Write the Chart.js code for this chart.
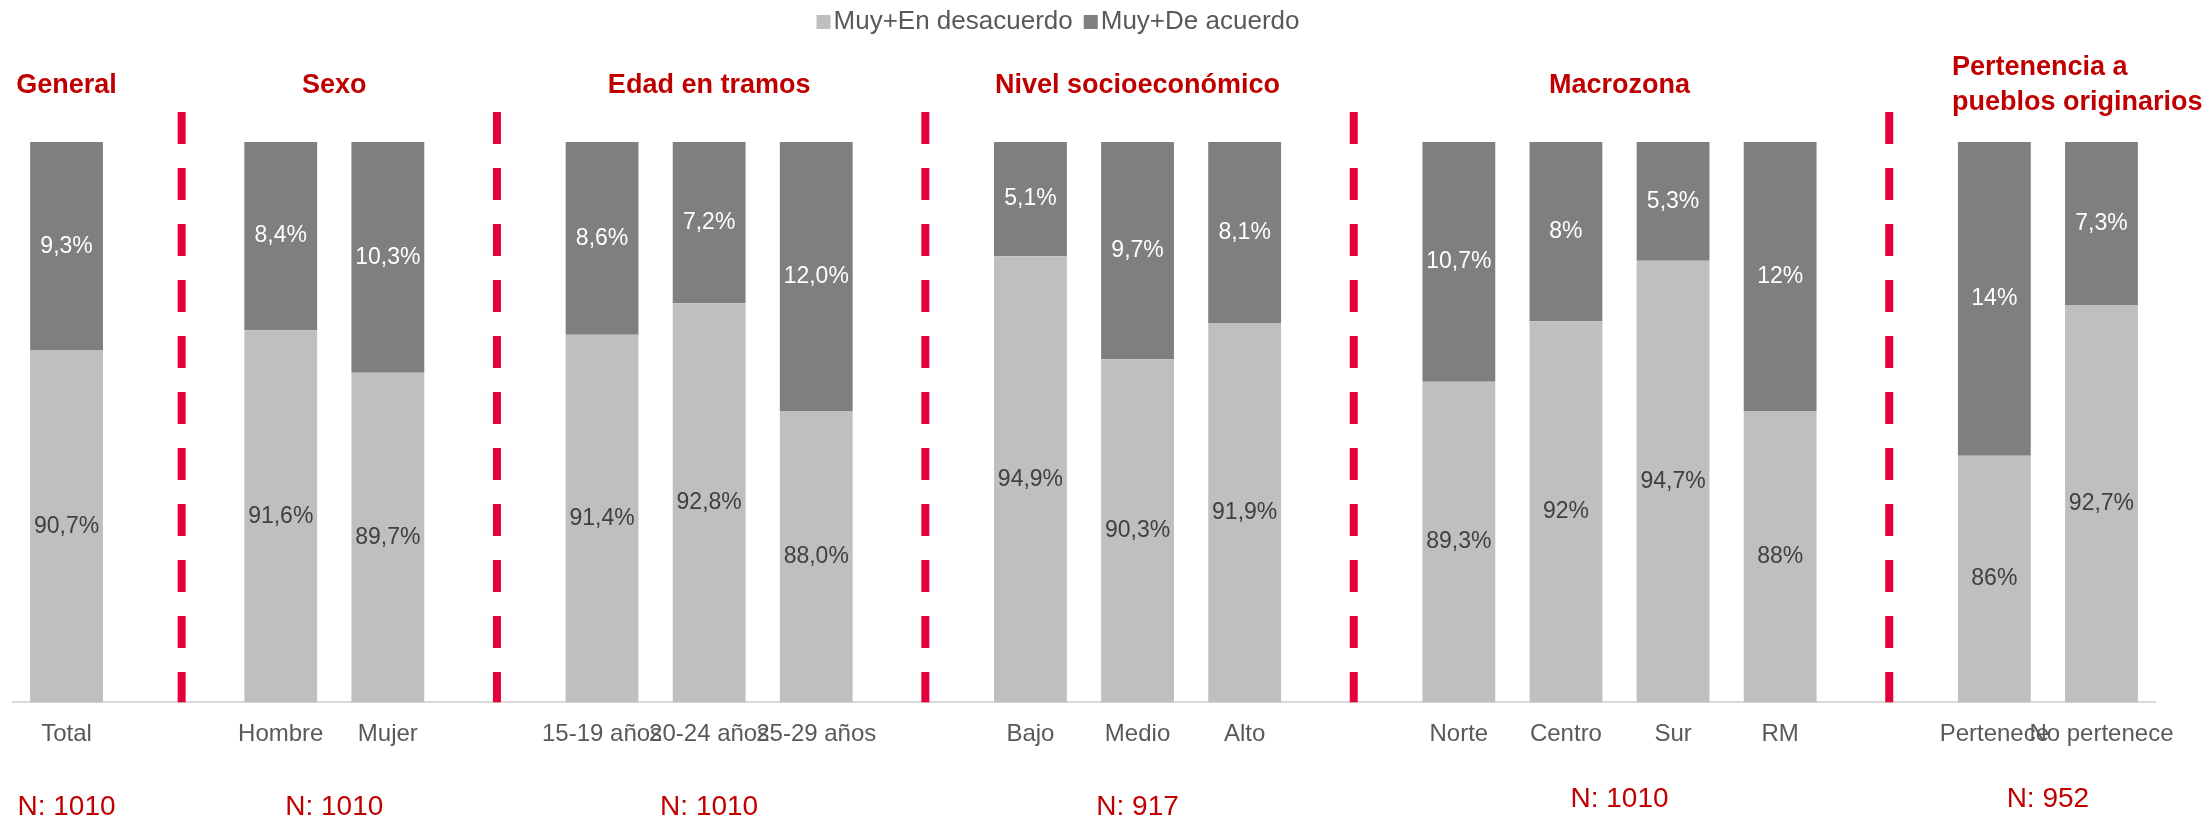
<!DOCTYPE html>
<html>
<head>
<meta charset="utf-8">
<title>Muy+En desacuerdo / Muy+De acuerdo</title>
<script src="https://cdn.jsdelivr.net/npm/chart.js@4.4.1/dist/chart.umd.min.js"></script>
<style>
  html, body { margin: 0; padding: 0; background: #ffffff; }
  canvas { display: block; }
</style>
</head>
<body>
<canvas id="acuerdoChart" width="2210" height="821"></canvas>
<script>
// Data
var categories = ['Total', 'Hombre', 'Mujer', '15-19 años', '20-24 años', '25-29 años',
    'Bajo', 'Medio', 'Alto', 'Norte', 'Centro', 'Sur', 'RM', 'Pertenece', 'No pertenece'];
var groupOf = [0, 1, 1, 2, 2, 2, 3, 3, 3, 4, 4, 4, 4, 5, 5];
var groupTitles = ['General', 'Sexo', 'Edad en tramos', 'Nivel socioeconómico', 'Macrozona',
    'Pertenencia a\npueblos originarios'];
var groupN = [1010, 1010, 1010, 917, 1010, 952];
var desacuerdo = [90.7, 91.6, 89.7, 91.4, 92.8, 88.0, 94.9, 90.3, 91.9, 89.3, 92, 94.7, 88, 86, 92.7];
var deAcuerdo = [9.3, 8.4, 10.3, 8.6, 7.2, 12.0, 5.1, 9.7, 8.1, 10.7, 8, 5.3, 12, 14, 7.3];
var decimals = [1, 1, 1, 1, 1, 1, 1, 1, 1, 1, 0, 1, 0, 0, 1];
var seriesNames = ['Muy+En desacuerdo', 'Muy+De acuerdo'];
var seriesColors = ['#BFBFBF', '#7F7F7F'];

var FONT = "'Liberation Sans', Arial, sans-serif";
var RED = '#C00000';
var DASH_RED = '#E4003A';
var nLabelY = [807, 807, 807, 807, 799, 799];

// Build slots: an empty slot between groups (that is where the red dashed line sits)
var slotLabels = [], slotLight = [], slotDark = [], slotIndex = [], gapSlots = [];
categories.forEach(function (c, i) {
    if (i > 0 && groupOf[i] !== groupOf[i - 1]) {
        gapSlots.push(slotLabels.length);
        slotLabels.push('');
        slotLight.push(null);
        slotDark.push(null);
        slotIndex.push(-1);
    }
    slotIndex.push(i);
    slotLabels.push(c);
    slotLight.push(desacuerdo[i]);
    slotDark.push(deAcuerdo[i]);
});

function fmt(v, d) {
    return v.toFixed(d).replace('.', ',') + '%';
}

// Labels, dashed separators, group titles, N and legend
var decorations = {
    id: 'decorations',
    afterDatasetsDraw: function (chart) {
        var ctx = chart.ctx;
        var area = chart.chartArea;
        var x = chart.scales.x;

        // value labels centred in the visible part of each segment
        ctx.save();
        ctx.font = '23px ' + FONT;
        ctx.textAlign = 'center';
        ctx.textBaseline = 'middle';
        chart.data.datasets.forEach(function (ds, di) {
            chart.getDatasetMeta(di).data.forEach(function (el, si) {
                var v = ds.data[si];
                if (v === null) return;
                var top = Math.max(el.y, area.top);
                var bottom = Math.min(el.base, area.bottom);
                ctx.fillStyle = di === 0 ? '#404040' : '#FFFFFF';
                ctx.fillText(fmt(v, decimals[slotIndex[si]]), el.x, (top + bottom) / 2);
            });
        });
        ctx.restore();

        // red dashed separators
        ctx.save();
        ctx.strokeStyle = DASH_RED;
        ctx.lineWidth = 8;
        ctx.setLineDash([32, 24]);
        gapSlots.forEach(function (s, k) {
            var px = x.getPixelForValue(s) + (k === 0 ? 8 : 2);
            ctx.beginPath();
            ctx.moveTo(px, 112);
            ctx.lineTo(px, area.bottom);
            ctx.stroke();
        });
        ctx.restore();
    },
    afterDraw: function (chart) {
        var ctx = chart.ctx;
        var bars = chart.getDatasetMeta(0).data;

        groupTitles.forEach(function (title, g) {
            var xs = [];
            bars.forEach(function (el, si) {
                if (slotIndex[si] >= 0 && groupOf[slotIndex[si]] === g) xs.push(el);
            });
            var cx = (xs[0].x + xs[xs.length - 1].x) / 2;

            ctx.save();
            ctx.fillStyle = RED;
            ctx.font = 'bold 27px ' + FONT;
            ctx.textBaseline = 'middle';
            var lines = title.split('\n');
            if (lines.length === 1) {
                ctx.textAlign = 'center';
                ctx.fillText(title, cx, 86);
            } else {
                ctx.textAlign = 'left';
                var left = xs[0].x - xs[0].width / 2 - 6;
                lines.forEach(function (l, k) {
                    ctx.fillText(l, left, 68 + k * 35);
                });
            }
            ctx.font = '28px ' + FONT;
            ctx.textAlign = 'center';
            ctx.fillText('N: ' + groupN[g], cx, nLabelY[g]);
            ctx.restore();
        });

        // legend
        ctx.save();
        ctx.font = '26px ' + FONT;
        ctx.textBaseline = 'middle';
        ctx.textAlign = 'left';
        var box = 14, gapBox = 3, gapItem = 11;
        var total = 0;
        seriesNames.forEach(function (n, i) {
            total += box + gapBox + ctx.measureText(n).width + (i ? gapItem : 0);
        });
        var lx = 1058 - total / 2;
        seriesNames.forEach(function (n, i) {
            if (i) lx += gapItem;
            ctx.fillStyle = seriesColors[i];
            ctx.fillRect(lx, 15, box, box);
            lx += box + gapBox;
            ctx.fillStyle = '#595959';
            ctx.fillText(n, lx, 22);
            lx += ctx.measureText(n).width;
        });
        ctx.restore();
    }
};

var ctx = document.getElementById('acuerdoChart').getContext('2d');
var acuerdoChart = new Chart(ctx, {
    type: 'bar',
    data: {
        labels: slotLabels,
        datasets: [{
            label: seriesNames[0],
            data: slotLight,
            backgroundColor: seriesColors[0],
            borderWidth: 0
        }, {
            label: seriesNames[1],
            data: slotDark,
            backgroundColor: seriesColors[1],
            borderWidth: 0
        }]
    },
    options: {
        responsive: false,
        devicePixelRatio: 1,
        animation: false,
        layout: { padding: { left: 13, right: 55, top: 142, bottom: 54 } },
        datasets: { bar: { categoryPercentage: 1, barPercentage: 0.68 } },
        plugins: {
            legend: { display: false },
            tooltip: { enabled: false }
        },
        scales: {
            x: {
                stacked: true,
                grid: { display: false, drawTicks: false },
                border: { display: true, color: '#D9D9D9', width: 2 },
                ticks: {
                    autoSkip: false,
                    maxRotation: 0,
                    minRotation: 0,
                    padding: 18,
                    color: '#595959',
                    font: { family: FONT, size: 24 }
                }
            },
            y: {
                stacked: true,
                display: false,
                min: 75,
                max: 100
            }
        }
    },
    plugins: [decorations]
});
</script>
</body>
</html>
